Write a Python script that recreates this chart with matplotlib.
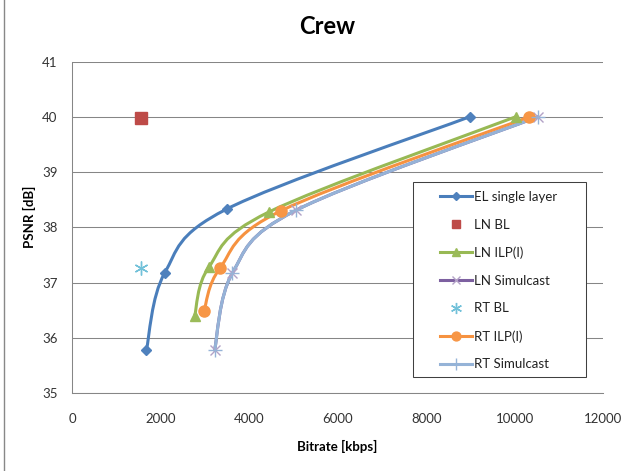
import matplotlib
matplotlib.use("Agg")
import matplotlib.pyplot as plt
from matplotlib.path import Path
from matplotlib.patches import PathPatch, Rectangle
from matplotlib.lines import Line2D
import numpy as np

plt.rcParams['font.family'] = ['Lato', 'DejaVu Sans']

# rate-distortion points (bitrate in kbps, PSNR in dB)
el_rate = [1680, 2090, 3490, 8980]
el_psnr = [35.78, 37.17, 38.33, 40.0]

ln_bl_rate = [1550]
ln_bl_psnr = [39.98]

ln_ilp_rate = [2770, 3090, 4450, 10020]
ln_ilp_psnr = [36.40, 37.28, 38.28, 40.0]

ln_sim_rate = [3220, 3620, 5060, 10520]
ln_sim_psnr = [35.78, 37.17, 38.31, 40.0]

rt_bl_rate = [1550]
rt_bl_psnr = [37.27]

rt_ilp_rate = [2980, 3340, 4720, 10330]
rt_ilp_psnr = [36.48, 37.26, 38.30, 40.0]

rt_sim_rate = [3220, 3620, 5060, 10520]
rt_sim_psnr = [35.78, 37.17, 38.31, 40.0]

x_ticks = [0, 2000, 4000, 6000, 8000, 10000, 12000]
y_ticks = [35, 36, 37, 38, 39, 40, 41]


def smooth_path(xs, ys, t=1.0 / 6):
    # Catmull-Rom style bezier through the points (like a spreadsheet "smoothed line")
    p = np.column_stack([xs, ys]).astype(float)
    n = len(p)
    verts = [p[0]]
    codes = [Path.MOVETO]
    for i in range(n - 1):
        prev = p[i - 1] if i > 0 else p[i]
        nxt = p[i + 2] if i + 2 < n else p[i + 1]
        c1 = p[i] + (p[i + 1] - prev) * t
        c2 = p[i + 1] - (nxt - p[i]) * t
        verts += [c1, c2, p[i + 1]]
        codes += [Path.CURVE4] * 3
    return Path(verts, codes)


fig = plt.figure(figsize=(6.44, 4.71), dpi=100)
ax = fig.add_axes([0.1118, 0.165, 0.8250, 0.7044])

series = [
    # label, x, y, line colour, marker, marker colour, marker size, smoothed line
    ("EL single layer", el_rate, el_psnr, "#4A7EBB", "D", "#4F81BD", 5.5, True),
    ("LN BL", ln_bl_rate, ln_bl_psnr, None, "s", "#BE4B48", 8, False),
    ("LN ILP(I)", ln_ilp_rate, ln_ilp_psnr, "#98B954", "^", "#9BBB59", 7.5, True),
    ("LN Simulcast", ln_sim_rate, ln_sim_psnr, "#7D60A0", "x", "#B3A2C7", 7, True),
    ("RT BL", rt_bl_rate, rt_bl_psnr, None, (6, 2, 0), "#72C1D9", 10, False),
    ("RT ILP(I)", rt_ilp_rate, rt_ilp_psnr, "#F69240", "o", "#F79646", 8, True),
    ("RT Simulcast", rt_sim_rate, rt_sim_psnr, "#95B3D7", "+", "#95B3D7", 10, True),
]

handles = []
for i, (label, xs, ys, lc, mk, mc, ms, smooth) in enumerate(series):
    if smooth:
        ax.add_patch(PathPatch(smooth_path(xs, ys), fill=False, edgecolor=lc,
                               lw=2.2, capstyle='round', zorder=3 + i * 0.1))
    ax.plot(xs, ys, ls='none', marker=mk, ms=ms, color=mc, mec=mc,
            mew=1.0, zorder=4 + i * 0.1)
    handles.append(Line2D([], [], color=lc if lc else mc,
                          ls='-' if lc else 'none', lw=2.2,
                          marker=mk, ms=ms * 0.8, mfc=mc, mec=mc, mew=1.0))

ax.set_xlim(0, 12000)
ax.set_ylim(35, 41)
ax.set_xticks(x_ticks)
ax.set_yticks(y_ticks)
ax.tick_params(length=0, labelsize=9.5, colors="#333333")
ax.tick_params(axis='x', pad=14)
ax.tick_params(axis='y', pad=10.5)
ax.grid(axis='y', color="#868686", lw=0.75)
ax.set_axisbelow(True)
for side in ['top', 'right']:
    ax.spines[side].set_visible(False)
for side in ['left', 'bottom']:
    ax.spines[side].set_color("#868686")
    ax.spines[side].set_linewidth(0.75)

fig.text(327 / 644, 1 - 27 / 471, "Crew", ha='center', va='center',
         fontsize=17, fontweight='bold')
fig.text(337 / 644, 1 - 446 / 471, "Bitrate [kbps]", ha='center',
         va='center', fontsize=9.5, fontweight='bold')
fig.text(29 / 644, 1 - 217 / 471, "PSNR [dB]", ha='center', va='center',
         rotation=90, fontsize=9.5, fontweight='bold')

# legend box and entries
ax.add_patch(Rectangle((412.7 / 644, 1 - 376.7 / 471), 173 / 644,
                       195 / 471, transform=fig.transFigure,
                       facecolor='white', edgecolor='#404040',
                       lw=0.75, zorder=8, clip_on=False))
leg = ax.legend(handles, [s[0] for s in series], loc='upper left',
                bbox_to_anchor=(440 / 644, 1 - 191 / 471),
                bbox_transform=fig.transFigure, frameon=False,
                fontsize=9.5, borderpad=0, borderaxespad=0,
                handlelength=2.4, handletextpad=0.2, labelspacing=1.19,
                numpoints=1)
leg.set_zorder(10)
for txt in leg.get_texts():
    txt.set_color("#222222")

# left border of the chart frame
fig.add_artist(Line2D([4 / 644, 4 / 644], [0, 1], transform=fig.transFigure,
                      color="#888888", lw=1.0))

fig.savefig("out.png", dpi=100)
